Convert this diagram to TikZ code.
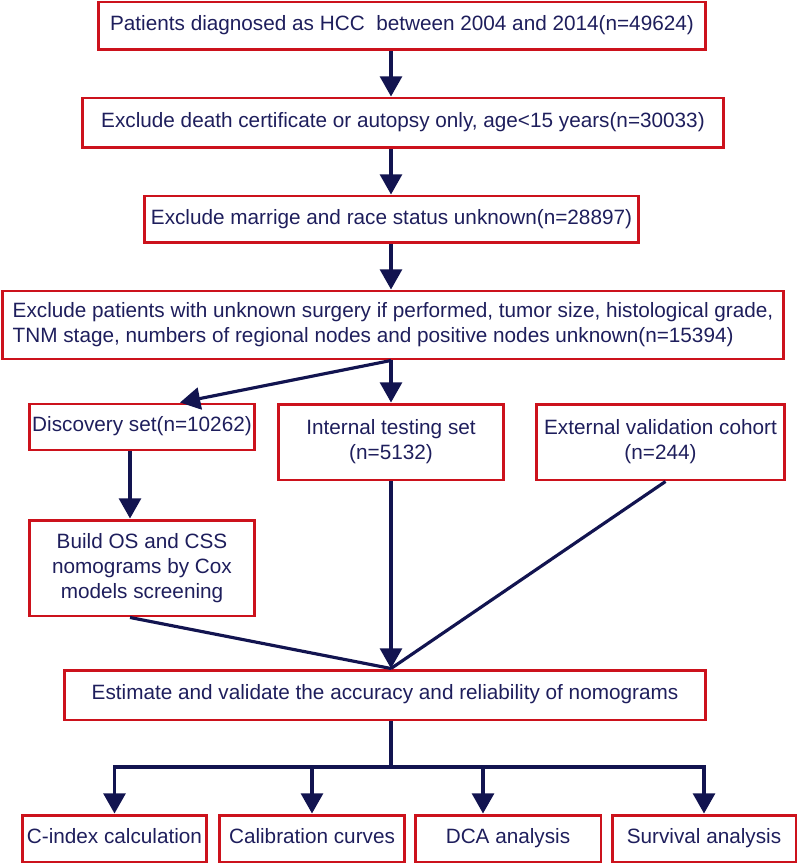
\documentclass[tikz,border=0pt]{standalone}
\usepackage{fontspec}
\setmainfont{Liberation Sans}
\usetikzlibrary{arrows.meta}
\definecolor{boxred}{RGB}{204,18,28}
\definecolor{flownavy}{RGB}{18,20,80}
\definecolor{textnavy}{RGB}{30,30,92}
\tikzset{
	flowbox/.style={shape=rectangle,draw=boxred,line width=1.7pt,text=textnavy,inner sep=0pt,align=center,font=\fontsize{11.8pt}{14.2pt}\selectfont},
	oneline/.style={flowbox,text height=0.75em,text depth=0.22em},
	flowline/.style={draw=flownavy,line width=1.8pt},
	flowarrow/.style={flowline,-{Triangle[width=12.5pt,length=11.5pt]}}
}

\begin{document}
\begin{tikzpicture}[x=0.02cm,y=-0.02cm]
	\useasboundingbox (0,0) rectangle (798,864);
	\coordinate (spine) at (391,0);
	\coordinate (fork) at (391,767);
	\node[oneline,minimum width=12.16cm,minimum height=0.96cm] (diag) at (402,26) {Patients diagnosed as HCC\ \ between 2004 and 2014(n=49624)};
	\node[oneline,minimum width=12.84cm,minimum height=1.00cm] (death) at (403,123) {Exclude death certificate or autopsy only, age<15 years(n=30033)};
	\node[oneline,minimum width=9.90cm,minimum height=0.94cm] (race) at (391.5,219.5) {Exclude marrige and race status unknown(n=28897)};
	\node[flowbox,minimum width=15.64cm,minimum height=1.36cm,align=left] (unk) at (393,325) {Exclude patients with unknown surgery if performed, tumor size, histological grade,\\TNM stage, numbers of regional nodes and positive nodes unknown(n=15394)};
	\node[oneline,minimum width=4.52cm,minimum height=0.92cm] (disc) at (142,427) {Discovery set(n=10262)};
	\node[flowbox,minimum width=4.52cm,minimum height=1.52cm] (intl) at (391,442) {Internal testing set\\(n=5132)};
	\node[flowbox,minimum width=4.98cm,minimum height=1.52cm] (ext) at (660.5,442) {External validation cohort\\(n=244)};
	\node[flowbox,minimum width=4.52cm,minimum height=1.92cm] (build) at (142,568) {Build OS and CSS\\nomograms by Cox\\models screening};
	\node[oneline,minimum width=12.84cm,minimum height=1.00cm] (est) at (385,695) {Estimate and validate the accuracy and reliability of nomograms};
	\node[oneline,minimum width=3.70cm,minimum height=0.94cm] (cidx) at (114.5,838.5) {C-index calculation};
	\node[oneline,minimum width=3.72cm,minimum height=0.94cm] (calib) at (312,838.5) {Calibration curves};
	\node[oneline,minimum width=3.72cm,minimum height=0.94cm] (dca) at (508,838.5) {DCA analysis};
	\node[oneline,minimum width=3.68cm,minimum height=0.94cm] (surv) at (704,838.5) {Survival analysis};
	\coordinate (dcain) at ([xshift=-0.5cm]dca.north);
	\draw[flowarrow] (diag.south -| spine) -- (death.north -| spine);
	\draw[flowarrow] (death.south -| spine) -- (race.north -| spine);
	\draw[flowarrow] (race.south -| spine) -- (unk.north -| spine);
	\draw[flowarrow] (unk.south -| spine) -- ([xshift=0.76cm]disc.north);
	\draw[flowarrow] (unk.south -| spine) -- (intl.north);
	\draw[flowarrow] ([xshift=-0.24cm]disc.south) -- ([xshift=-0.24cm]build.north);
	\draw[flowline] ([xshift=-0.24cm]build.south) -- (est.north -| spine);
	\draw[flowline] ([xshift=0.1cm]ext.south) -- (est.north -| spine);
	\draw[flowarrow] (intl.south) -- (est.north -| spine);
	\draw[flowarrow] (est.south -| spine) -- (fork) -| (cidx.north);
	\draw[flowarrow] (fork) -| (surv.north);
	\draw[flowarrow] (fork -| calib) -- (calib.north);
	\draw[flowarrow] (fork -| dcain) -- (dcain);
\end{tikzpicture}
\end{document}
